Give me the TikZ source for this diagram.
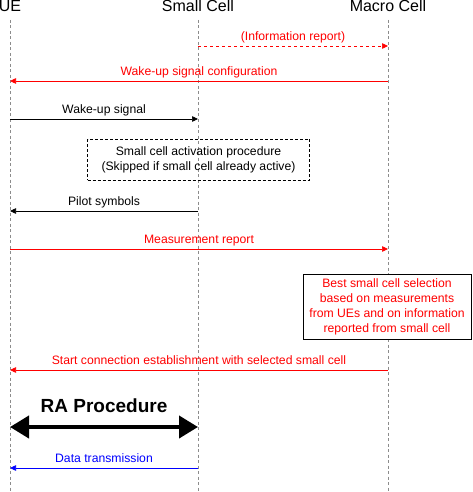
\documentclass[tikz,border=0pt]{standalone}
\usepackage{fontspec}
\setmainfont{Liberation Sans}
\usetikzlibrary{arrows.meta}
\tikzset{ratip/.tip={Triangle[length=19pt,width=22pt]}}
\begin{document}
\begin{tikzpicture}[x=1pt,y=-1pt,
  life/.style={draw=black!45, dash pattern=on 3pt off 2.5pt, line width=0.6pt},
  hdr/.style={anchor=base, font=\fontsize{16}{19}\selectfont, inner sep=0pt},
  msg/.style={-{Triangle[length=6pt,width=5.5pt]}, line width=0.7pt},
  lbl/.style={anchor=base, font=\fontsize{12.2}{15}\selectfont, inner sep=0pt, yshift=5.8pt},
  boxtxt/.style={align=center, font=\fontsize{12.2}{15}\selectfont, inner sep=0pt},
  ra/.style={line width=4pt, ratip-ratip}]
\useasboundingbox (0,0) rectangle (472,492);
% headers
\node[hdr] (ueh) at (10,12) {UE};
\node[hdr] (sch) at (198,12) {Small Cell};
\node[hdr] (mch) at (388,12) {Macro Cell};
% lifelines
\coordinate (uetop) at (10,20);  \coordinate (uebot) at (10,492);
\coordinate (sctop) at (198,20); \coordinate (scbot) at (198,492);
\coordinate (mctop) at (388,20); \coordinate (mcbot) at (388,492);
\draw[life] (uetop) -- (uebot);
\draw[life] (sctop) -- (scbot);
\draw[life] (mctop) -- (mcbot);
% message end points
\coordinate (s1) at (198,46);  \coordinate (m1) at (388,46);
\coordinate (m2) at (388,81);  \coordinate (u2) at (10,81);
\coordinate (u3) at (10,119);  \coordinate (s3) at (198,119);
\coordinate (s5) at (198,211); \coordinate (u5) at (10,211);
\coordinate (u6) at (10,249);  \coordinate (m6) at (388,249);
\coordinate (m8) at (388,370); \coordinate (u8) at (10,370);
\coordinate (u9) at (10,427);  \coordinate (s9) at (198,427);
\coordinate (s10) at (198,468); \coordinate (u10) at (10,468);
% messages
\draw[msg, red, dashed] (s1) -- node[lbl] (l1) {(Information report)} (m1);
\draw[msg, red] (m2) -- node[lbl] (l2) {Wake-up signal configuration} (u2);
\draw[msg] (u3) -- node[lbl] (l3) {Wake-up signal} (s3);
\node[draw, dash pattern=on 3pt off 2pt, line width=0.7pt, minimum width=222pt, minimum height=41pt, boxtxt] (act) at (198.5,159.5)
  {Small cell activation procedure\\(Skipped if small cell already active)};
\draw[msg] (s5) -- node[lbl] (l5) {Pilot symbols} (u5);
\draw[msg, red] (u6) -- node[lbl] (l6) {Measurement report} (m6);
\node[draw, line width=0.8pt, fill=white, minimum width=168pt, minimum height=65pt, boxtxt, text=red] (sel) at (387,306.5)
  {Best small cell selection\\based on measurements\\from UEs and on information\\reported from small cell};
\draw[msg, red] (m8) -- node[lbl] (l8) {Start connection establishment with selected small cell} (u8);
\draw[ra] (u9) -- node[anchor=base, inner sep=0pt, yshift=15pt, font=\fontsize{19}{23}\selectfont\bfseries] (l9) {RA Procedure} (s9);
\draw[msg, blue] (s10) -- node[lbl] (l10) {Data transmission} (u10);
\end{tikzpicture}
\end{document}
